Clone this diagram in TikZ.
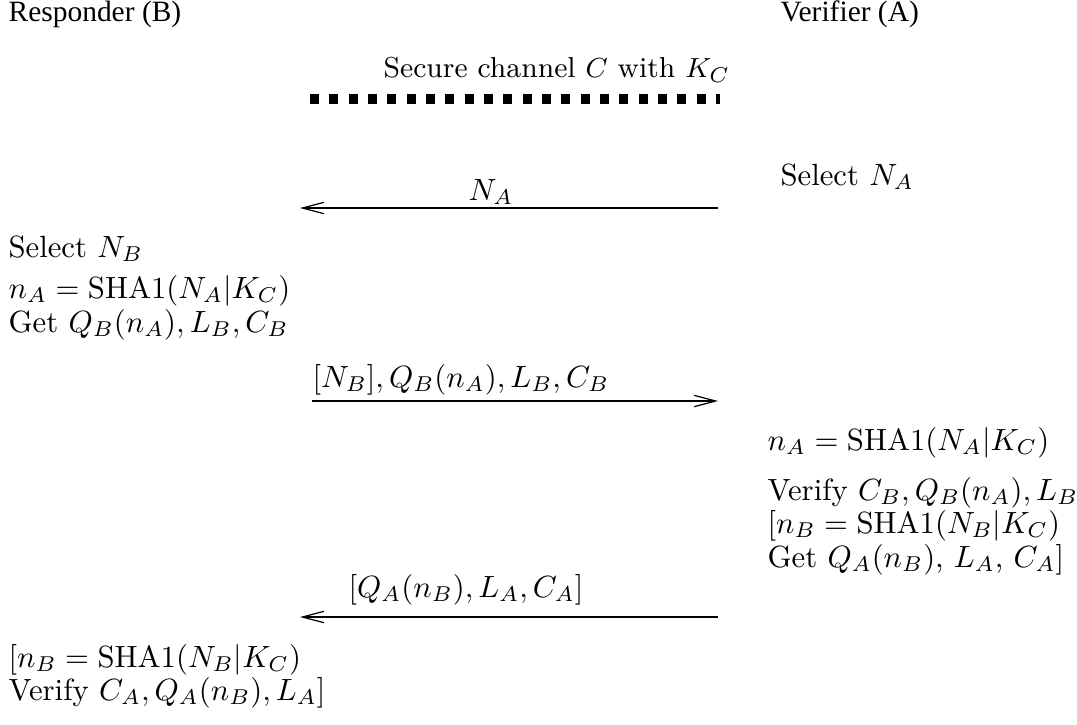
\documentclass[tikz,border=0pt]{standalone}
\usepackage{fontspec}
\newfontfamily\headfont{Liberation Serif}
\usetikzlibrary{arrows.meta}

\begin{document}
\begin{tikzpicture}[
    x=1.145cm, y=-1.145cm,
    lbl/.style={anchor=base west, inner sep=0pt},
    head/.style={lbl, font=\headfont\fontsize{9.6}{11}\selectfont},
    msg/.style={-{Straight Barb[length=7pt, width=3.7pt]}, thin},
    chan/.style={line width=3.2pt, dash pattern=on 2.9pt off 3.4pt}
]
\useasboundingbox (0,0) rectangle (10.77,7.24);

% ===================================================================
% PARTIES
% ===================================================================
\node[head] (resp) at (0.08,0.21) {Responder (B)};
\node[head] (ver) at (7.80,0.21) {Verifier (A)};

% Secure channel
\node[lbl, font=\fontsize{9.4}{11}\selectfont] (chanlbl) at (3.83,0.77)
    {Secure channel $C$ with $K_C$};
\coordinate (chanL) at (3.10,0.99);
\coordinate (chanR) at (7.20,0.99);
\draw[chan] (chanL) -- (chanR);

% ===================================================================
% MESSAGE 1: A -> B
% ===================================================================
\node[lbl] (selA) at (7.80,1.85) {Select $N_A$};
\coordinate (a1) at (7.18,2.08);
\coordinate (b1) at (3.00,2.08);
\draw[msg] (a1) -- (b1);
\node[lbl] (m1) at (4.68,2.00) {$N_A$};

% Responder computes
\node[lbl] (selB) at (0.08,2.57) {Select $N_B$};
\node[lbl] (hashB) at (0.08,2.98) {$n_A = \mathrm{SHA1}(N_A|K_C)$};
\node[lbl] (getB) at (0.08,3.32) {Get $Q_B(n_A), L_B, C_B$};

% ===================================================================
% MESSAGE 2: B -> A
% ===================================================================
\coordinate (b2) at (3.12,4.01);
\coordinate (a2) at (7.18,4.01);
\draw[msg] (b2) -- (a2);
\node[lbl] (m2) at (3.12,3.87) {$[N_B], Q_B(n_A), L_B, C_B$};

% Verifier computes
\node[lbl] (hashA) at (7.67,4.50) {$n_A = \mathrm{SHA1}(N_A|K_C)$};
\node[lbl] (verA) at (7.67,5.00) {Verify $C_B, Q_B(n_A), L_B$};
\node[lbl] (nbA) at (7.67,5.33) {$[n_B = \mathrm{SHA1}(N_B|K_C)$};
\node[lbl] (getA) at (7.67,5.67) {Get $Q_A(n_B)$, $L_A$, $C_A]$};

% ===================================================================
% MESSAGE 3: A -> B
% ===================================================================
\coordinate (a3) at (7.18,6.17);
\coordinate (b3) at (3.00,6.17);
\draw[msg] (a3) -- (b3);
\node[lbl] (m3) at (3.48,5.97) {$[Q_A(n_B), L_A, C_A]$};

% Responder verifies
\node[lbl] (nbB) at (0.08,6.67) {$[n_B = \mathrm{SHA1}(N_B|K_C)$};
\node[lbl] (verB) at (0.08,7.00) {Verify $C_A, Q_A(n_B), L_A]$};

\end{tikzpicture}
\end{document}
